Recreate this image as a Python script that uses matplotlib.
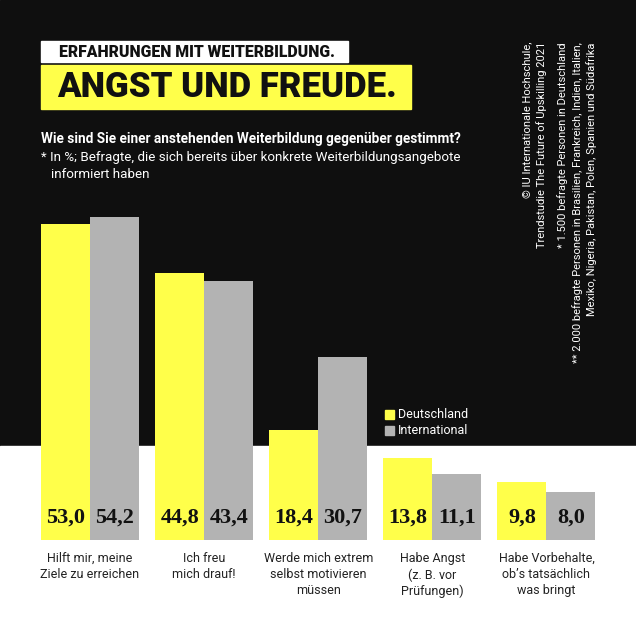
import matplotlib
matplotlib.use("Agg")
import matplotlib.pyplot as plt
from matplotlib.patches import Rectangle
import numpy as np

categories = ["Hilft mir, meine\nZiele zu erreichen", "Ich freu\nmich drauf!",
              "Werde mich extrem\nselbst motivieren\nmüssen", "Habe Angst\n(z. B. vor\nPrüfungen)",
              "Habe Vorbehalte,\nob’s tatsächlich\nwas bringt"]
deutschland = [53.0, 44.8, 18.4, 13.8, 9.8]
international = [54.2, 43.4, 30.7, 11.1, 8.0]
series_names = ["Deutschland", "International"]

YELLOW = "#FFFF4A"
GRAY = "#B3B3B3"
BG = "#0F0F0F"
SANS = ["Roboto", "DejaVu Sans"]
SERIF = ["Liberation Serif", "DejaVu Serif"]

W = H = 636
fig = plt.figure(figsize=(6.36, 6.36), dpi=100)

# background axes in pixel coordinates
bg = fig.add_axes([0, 0, 1, 1])
bg.set_xlim(0, W)
bg.set_ylim(H, 0)
bg.axis("off")
bg.add_patch(Rectangle((0, 0), W, 446, color=BG, zorder=0))
bg.add_patch(Rectangle((0, 446), W, H - 446, color="white", zorder=0))

# header boxes
bg.add_patch(Rectangle((41, 41), 307, 21, color="white", zorder=1))
bg.text(59, 52, "ERFAHRUNGEN MIT WEITERBILDUNG.", fontsize=11.3, fontweight="heavy",
        family=SANS, color="#111111", va="center", ha="left", zorder=2)
bg.add_patch(Rectangle((41, 65), 370, 44, color=YELLOW, zorder=1))
bg.text(57, 87.5, "ANGST UND FREUDE.", fontsize=25, fontweight="heavy",
        family=SANS, color="#111111", va="center", ha="left", zorder=2)

bg.text(41, 139, "Wie sind Sie einer anstehenden Weiterbildung gegenüber gestimmt?",
        fontsize=9.8, fontweight="bold", family=SANS, color="white", va="center", ha="left")
bg.text(41, 157, "* In %; Befragte, die sich bereits über konkrete Weiterbildungsangebote",
        fontsize=9.65, family=SANS, color="white", va="center", ha="left")
bg.text(51, 174, "informiert haben",
        fontsize=9.65, family=SANS, color="white", va="center", ha="left")

# rotated source notes
notes = [(527, "© IU Internationale Hochschule,"),
         (542, "Trendstudie The Future of Upskilling 2021"),
         (563, "* 1.500 befragte Personen in Deutschland"),
         (578, "** 2.000 befragte Personen in Brasilien, Frankreich, Indien, Italien,"),
         (592, "Mexiko, Nigeria, Pakistan, Polen, Spanien und Südafrika")]
for x, t in notes:
    bg.text(x, 42, t, rotation=90, fontsize=8.0, family=SANS, color="white",
            ha="center", va="top")

# legend
bg.add_patch(Rectangle((385, 410), 9, 9, color=YELLOW))
bg.add_patch(Rectangle((385, 426), 9, 9, color=GRAY))
bg.text(398, 414.5, series_names[0], fontsize=9, family=SANS, color="white", va="center", ha="left")
bg.text(398, 430.5, series_names[1], fontsize=9, family=SANS, color="white", va="center", ha="left")

# bar axes
px_per_unit = 5.96
ymax = 60
left_px, right_px = 33, 603.5
bottom_px = 540
height_px = ymax * px_per_unit
ax = fig.add_axes([left_px / W, (H - bottom_px) / H, (right_px - left_px) / W, height_px / H])
ax.set_xlim(-0.5, 4.5)
ax.set_ylim(0, ymax)
ax.patch.set_alpha(0)
ax.axis("off")

x = np.arange(len(categories))
bw = 49 / 114.1
b1 = ax.bar(x - bw / 2, deutschland, bw, color=YELLOW, edgecolor="none")
b2 = ax.bar(x + bw / 2, international, bw, color=GRAY, edgecolor="none")

for bars, vals in ((b1, deutschland), (b2, international)):
    for rect, v in zip(bars, vals):
        ax.annotate(f"{v:.1f}".replace(".", ","), (rect.get_x() + rect.get_width() / 2, 0),
                    xytext=(0, 22 * 72 / 100), textcoords="offset points",
                    ha="center", va="center", fontsize=16, fontweight="bold",
                    family=SERIF, color="#111111")

for xi, cat in zip(x, categories):
    ax.annotate(cat, (xi, 0), xytext=(0, -12 * 72 / 100), textcoords="offset points",
                ha="center", va="top", fontsize=9, family=SANS, color="#222222",
                linespacing=1.3)

fig.savefig("out.png", dpi=100, facecolor="white")
